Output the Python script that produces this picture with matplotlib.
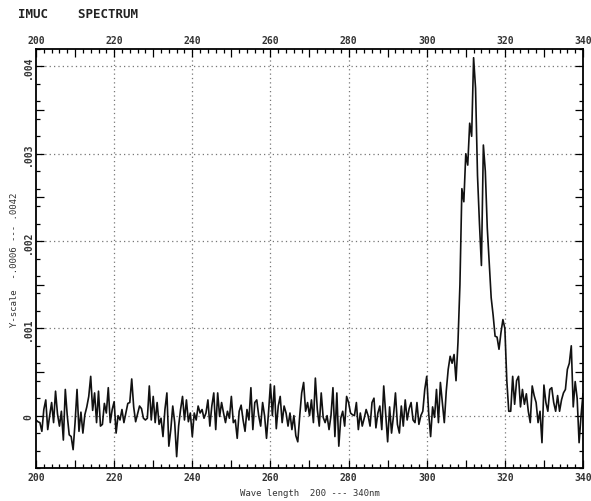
import matplotlib
matplotlib.use("Agg")
import matplotlib.pyplot as plt
import numpy as np

# wavelength axis, 0.5 nm steps from 200 to 340 nm
wl_start, wl_stop, wl_step = 200.0, 340.0, 0.5

# signal, in units of 1e-4
sig_e4 = [
    -0.5, -0.7, -0.8, -1.8, 0.7, 1.8, -1.6, 0.0, 1.5, -0.8, 2.8, 0.2, -1.2, 0.5, -2.8, 3.0, 0.0, -2.2, -2.4, -3.9,  # 200
    -0.8, 3.0, -1.8, 0.4, -2.0, 0.1, 1.0, 2.2, 4.5, 0.6, 2.6, -0.8, 2.8, -1.2, -1.0, 1.4, 0.3, 3.2, -0.8, 0.7,  # 210
    1.6, -2.0, 0.0, -0.5, 0.7, -0.8, 0.3, 1.4, 1.5, 4.2, 1.0, -0.7, 0.2, 1.1, 0.8, -0.3, -0.5, -0.3, 3.4, -0.5,  # 220
    2.2, -0.8, 1.5, -1.0, -0.3, -2.4, 0.7, 2.6, -3.5, -1.6, 1.1, -0.8, -4.7, -1.2, 0.7, 2.2, -0.5, 1.8, -0.7, 0.3,  # 230
    -2.4, 0.3, -0.5, 1.1, 0.3, 0.7, -0.3, 0.3, 1.8, -1.2, 1.1, 2.6, -1.6, 2.6, -0.1, 1.5, 0.3, -0.8, 0.5, -0.3,  # 240
    2.2, -0.8, -0.5, -2.6, 0.5, 1.2, -0.5, -1.8, 0.7, -0.5, 3.2, -1.6, 1.5, 1.8, 0.0, -1.2, 1.5, 0.0, -2.6, 0.3,  # 250
    3.6, 0.0, 3.4, -1.5, 1.1, 2.2, -0.8, 1.1, 0.3, -1.2, 0.3, -1.6, 0.0, -2.3, -3.0, 0.0, 2.6, 3.8, 0.5, 1.5,  # 260
    0.0, 1.8, -0.8, 4.3, 0.7, -1.2, 2.6, -0.2, -0.8, 0.0, -1.6, 0.0, 3.2, -2.4, 2.6, -3.5, -0.3, 0.5, -1.2, 2.2,  # 270
    1.5, 0.3, 0.1, 0.0, 1.5, -1.6, 0.3, -1.2, -0.3, 0.7, 0.0, -1.2, 1.5, 2.0, -1.4, 0.3, 1.1, -1.6, 3.4, 0.2,  # 280
    -3.0, 1.0, -2.0, 0.0, 2.6, -1.0, -2.0, 1.1, -1.2, 1.8, -0.5, 0.8, 1.5, -0.5, -0.8, 1.5, -1.0, 0.0, 0.5, 3.0,  # 290
    4.5, 0.3, -2.4, 1.0, -0.2, 3.0, -0.8, 3.8, 1.5, -0.8, 2.8, 5.3, 6.8, 6.0, 7.0, 4.0, 8.4, 15.0, 26.0, 24.5,  # 300
    30.0, 28.7, 33.5, 32.0, 41.0, 37.5, 27.5, 22.0, 17.2, 31.0, 28.0, 21.5, 17.5, 13.5, 11.5, 9.1, 9.0, 7.6, 9.5, 11.0,  # 310
    10.0, 4.0, 0.5, 0.5, 4.5, 1.3, 4.0, 4.5, 1.0, 3.0, 1.3, 2.5, 0.5, -0.8, 3.4, 2.3, 1.5, -0.8, 0.5, -3.1,  # 320
    3.5, 1.5, 0.5, 3.0, 3.2, 1.5, 0.5, 2.3, 0.5, 1.8, 2.6, 3.0, 5.3, 6.0, 8.0, 1.0, 3.9, 2.0, -3.1, 0.0,  # 330
    2.5,  # 340
]

x_labels = ["200", "220", "240", "260", "280", "300", "320", "340"]
y_label_vals = [0.0, 0.001, 0.002, 0.003, 0.004]
y_labels = ["0", ".001", ".002", ".003", ".004"]

wl = np.arange(wl_start, wl_stop + wl_step / 2, wl_step)
sig = np.array(sig_e4) * 1e-4

mono = "DejaVu Sans Mono"

fig = plt.figure(figsize=(5.91, 5.02), dpi=100)
ax = fig.add_axes([36 / 591, 33 / 502, 547 / 591, 419 / 502])

ax.plot(wl, sig, color="#111111", linewidth=1.2)

ax.set_xlim(200, 340)
ax.set_ylim(-0.0006, 0.0042)

# grid only at labelled positions
for xv in range(220, 340, 20):
    ax.axvline(xv, color="#777777", linestyle=(0, (1, 2.5)), linewidth=0.9, zorder=0)
for yv in y_label_vals:
    ax.axhline(yv, color="#777777", linestyle=(0, (1, 2.5)), linewidth=0.9, zorder=0)

# major ticks every 10 nm, labels every 20
xmaj = list(range(200, 341, 10))
ax.set_xticks(xmaj)
ax.set_xticklabels([str(v) if v % 20 == 0 else "" for v in xmaj])
ax.set_xticks(list(range(200, 341, 2)), minor=True)

ymaj = [i * 0.0005 for i in range(0, 9)]
ax.set_yticks(ymaj)
lab = dict(zip([round(v, 4) for v in y_label_vals], y_labels))
ax.set_yticklabels([lab.get(round(v, 4), "") for v in ymaj])
ax.set_yticks([round(-0.0006 + i * 0.0002, 4) for i in range(0, 25)], minor=True)

ax.tick_params(which="both", direction="in", top=True, right=True,
               labeltop=True, labelbottom=True, width=0.9, color="black")
ax.tick_params(which="major", length=6)
ax.tick_params(which="minor", length=3)
ax.tick_params(axis="x", labelsize=7, pad=3)
ax.tick_params(axis="y", labelsize=7, pad=2)
for t in ax.get_xticklabels():
    t.set_fontfamily(mono)
    t.set_fontweight("bold")
    t.set_color("#333333")
for t in ax.get_yticklabels():
    t.set_fontfamily(mono)
    t.set_fontweight("bold")
    t.set_color("#333333")
    t.set_rotation(90)
    t.set_va("center")

for s in ax.spines.values():
    s.set_linewidth(1.3)

fig.text(18 / 591, 1 - 15 / 502, "IMUC    SPECTRUM", fontfamily=mono,
         fontweight="bold", fontsize=9, va="center", ha="left", color="#222222")
ax.set_xlabel("Wave length  200 --- 340nm", fontfamily=mono, fontsize=6.5,
              color="#333333", labelpad=4)
ax.set_ylabel("Y-scale  -.0006 --- .0042", fontfamily=mono, fontsize=6.5,
              color="#333333", labelpad=3)

fig.savefig("out.png", dpi=100)
